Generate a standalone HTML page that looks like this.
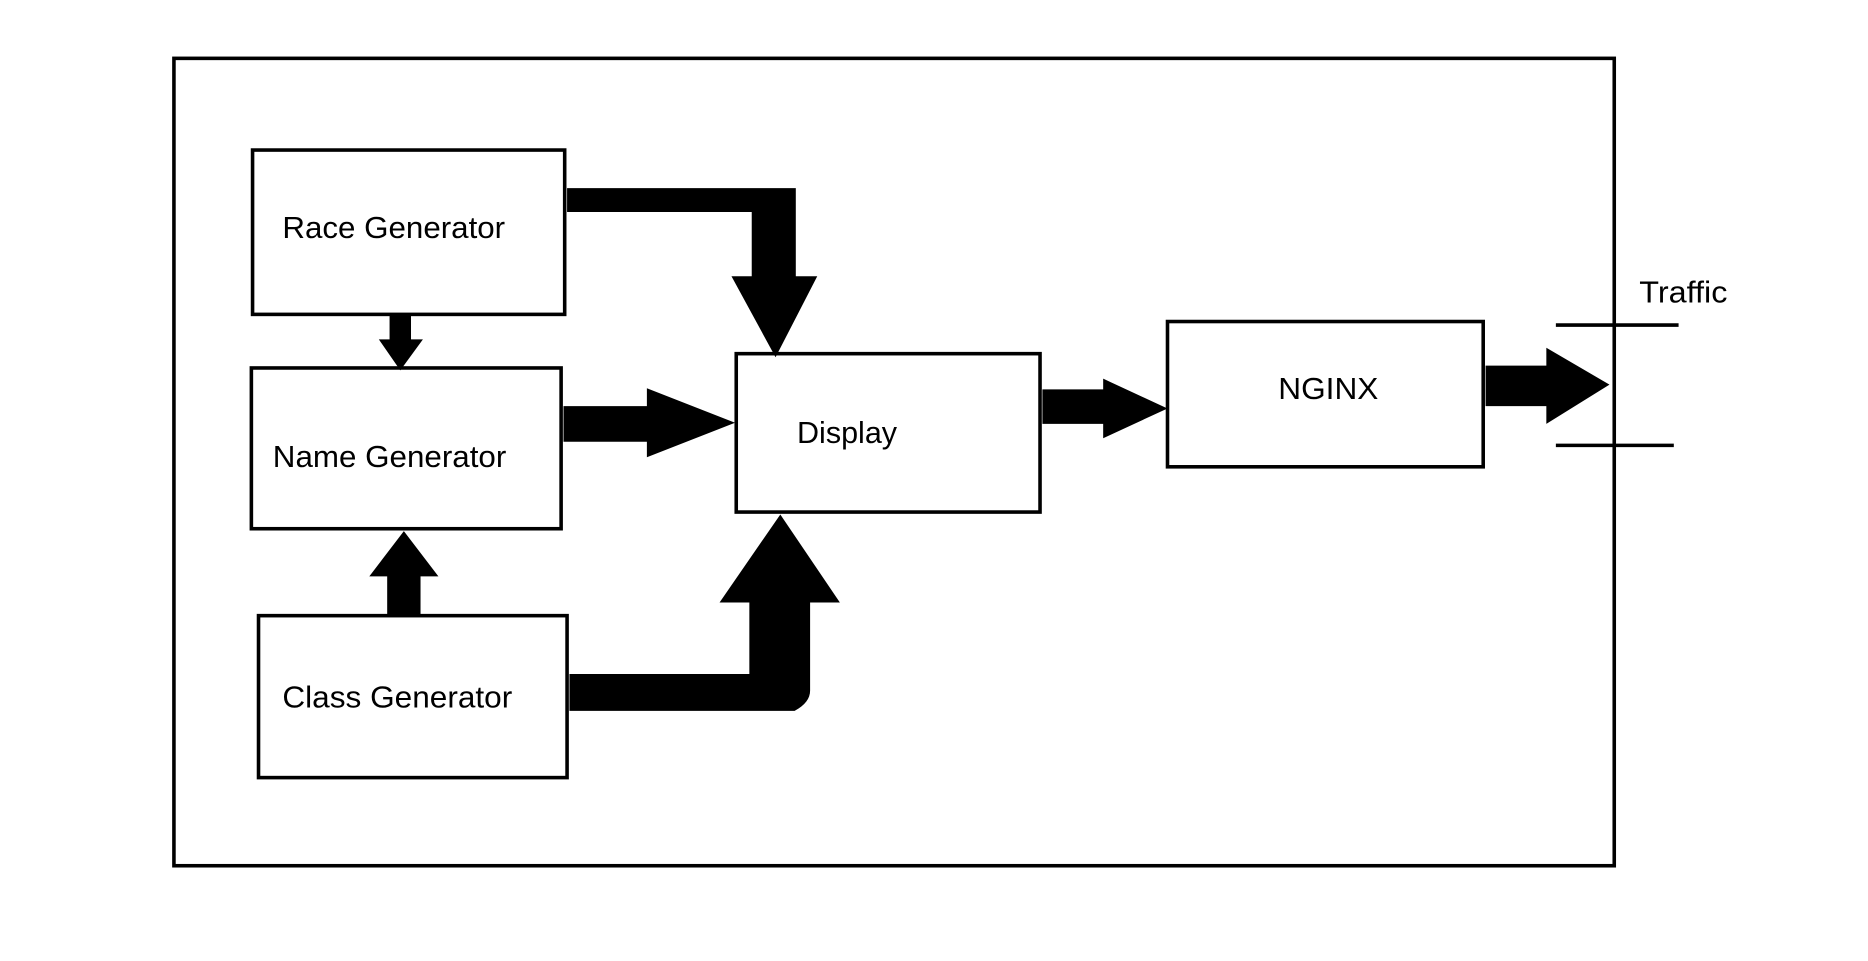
<!DOCTYPE html>
<html><head><meta charset="utf-8"><style>
html,body{margin:0;padding:0;background:#fff;}
svg{display:block;}
text{font-family:"Liberation Sans",Arial,sans-serif;font-size:26px;fill:#000;}
</style></head><body>
<svg width="1868" height="961" viewBox="0 0 1568 807" preserveAspectRatio="none" xmlns="http://www.w3.org/2000/svg">
<rect x="0" y="0" width="1568" height="807" fill="#fff"/>
<rect x="146" y="49" width="1209" height="678" fill="none" stroke="#000" stroke-width="3"/>
<g fill="none" stroke="#000" stroke-width="3">
<rect x="212" y="126" width="262" height="138"/>
<rect x="211" y="309" width="260" height="135"/>
<rect x="217" y="517" width="259" height="136"/>
<rect x="618" y="297" width="255" height="133"/>
<rect x="980" y="270" width="265" height="122"/>
</g>
<text x="237" y="200" textLength="187" lengthAdjust="spacingAndGlyphs">Race Generator</text>
<text x="229" y="392" textLength="196" lengthAdjust="spacingAndGlyphs">Name Generator</text>
<text x="237" y="594" textLength="193" lengthAdjust="spacingAndGlyphs">Class Generator</text>
<text x="669" y="372" textLength="84" lengthAdjust="spacingAndGlyphs">Display</text>
<text x="1073" y="335" textLength="84" lengthAdjust="spacingAndGlyphs">NGINX</text>
<text x="1376" y="254" textLength="74" lengthAdjust="spacingAndGlyphs">Traffic</text>
<g stroke="#000" stroke-width="3">
<line x1="1306" y1="273" x2="1409" y2="273"/>
<line x1="1306" y1="374" x2="1405" y2="374"/>
</g>
<g fill="#000">
<polygon points="476,158 668,158 668,232 686,232 651,300 614,232 631,232 631,178 476,178"/>
<polygon points="327,264 345,264 345,285 355,285 336,311 318,285 327,285"/>
<polygon points="473,341 543,341 543,326 617,355 543,384 543,371 473,371"/>
<polygon points="325,517 353,517 353,484 368,484 339,446 310,484 325,484"/>
<path d="M478,566 L629,566 L629,506 L604,506 L655,432 L705,506 L680,506 L680,580 Q680,590 667,597 L478,597 Z"/>
<polygon points="875,327 926,327 926,318 980,343 926,368 926,356 875,356"/>
<polygon points="1247,307 1298,307 1298,292 1351,323 1298,356 1298,341 1247,341"/>
</g>
</svg>
</body></html>
